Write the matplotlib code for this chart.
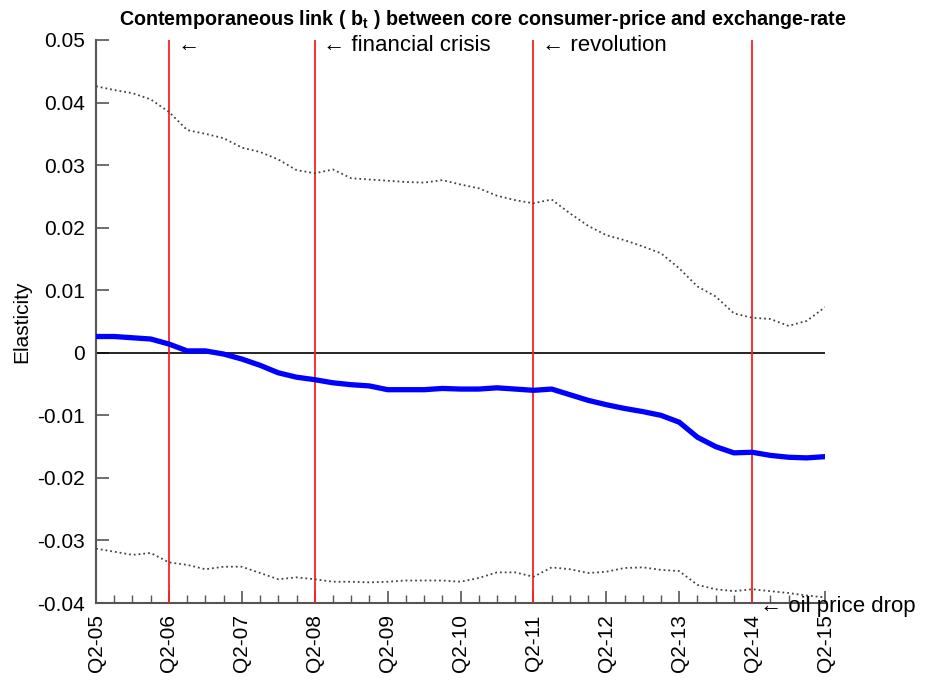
import matplotlib
matplotlib.use("Agg")
import matplotlib.pyplot as plt
from matplotlib.ticker import MultipleLocator

plt.rcParams['font.family'] = ['Liberation Sans', 'DejaVu Sans']
plt.rcParams['mathtext.fontset'] = 'custom'
plt.rcParams['mathtext.rm'] = 'Liberation Sans'
plt.rcParams['mathtext.bf'] = 'Liberation Sans:bold'

# quarterly index, Q2-05 ... Q2-15
quarters = list(range(41))
tick_pos = [0, 4, 8, 12, 16, 20, 24, 28, 32, 36, 40]
tick_labels = ['Q2-05', 'Q2-06', 'Q2-07', 'Q2-08', 'Q2-09', 'Q2-10',
               'Q2-11', 'Q2-12', 'Q2-13', 'Q2-14', 'Q2-15']

b_t = [0.0026, 0.0026, 0.0024, 0.0022, 0.0014, 0.0003, 0.0003, -0.0002, -0.0010, -0.0020,
       -0.0032, -0.0039, -0.0043, -0.0048, -0.0051, -0.0053, -0.0059, -0.0059, -0.0059, -0.0057,
       -0.0058, -0.0058, -0.0056, -0.0058, -0.0060, -0.0058, -0.0067, -0.0076, -0.0083, -0.0089,
       -0.0094, -0.0100, -0.0111, -0.0135, -0.0150, -0.0160, -0.0159, -0.0164, -0.0167, -0.0168,
       -0.0166]
upper = [0.0426, 0.0420, 0.0415, 0.0405, 0.0385, 0.0356, 0.0350, 0.0343, 0.0328, 0.0321,
         0.0309, 0.0292, 0.0287, 0.0293, 0.0279, 0.0277, 0.0275, 0.0273, 0.0272, 0.0276,
         0.0269, 0.0263, 0.0251, 0.0244, 0.0239, 0.0245, 0.0223, 0.0203, 0.0188, 0.0180,
         0.0170, 0.0159, 0.0135, 0.0106, 0.0090, 0.0063, 0.0056, 0.0054, 0.0043, 0.0051,
         0.0073]
lower = [-0.0313, -0.0318, -0.0323, -0.0320, -0.0335, -0.0339, -0.0346, -0.0342, -0.0342, -0.0352,
         -0.0362, -0.0359, -0.0362, -0.0366, -0.0366, -0.0367, -0.0366, -0.0364, -0.0364, -0.0364,
         -0.0366, -0.0360, -0.0351, -0.0351, -0.0358, -0.0343, -0.0346, -0.0352, -0.0350, -0.0344,
         -0.0343, -0.0347, -0.0349, -0.0371, -0.0378, -0.0381, -0.0378, -0.0381, -0.0384, -0.0388,
         -0.0391]

events = [4, 12, 24, 36]
event_labels = ['\u2190', '\u2190 financial crisis', '\u2190 revolution', '\u2190 oil price drop']

yticks = [0.05, 0.04, 0.03, 0.02, 0.01, 0.0, -0.01, -0.02, -0.03, -0.04]
ytick_labels = ['0.05', '0.04', '0.03', '0.02', '0.01', '0', '-0.01', '-0.02', '-0.03', '-0.04']

fig = plt.figure(figsize=(9.27, 6.8), dpi=100)
ax = fig.add_axes([0.1036, 0.1132, 0.7864, 0.828])

ax.axhline(0, color='black', lw=1.2, zorder=2)
for e in events:
    ax.axvline(e, color='#ff2020', lw=1.3, zorder=3)
ax.plot(quarters, upper, color='#444444', ls=':', lw=1.3, zorder=4)
ax.plot(quarters, lower, color='#444444', ls=':', lw=1.3, zorder=4)
ax.plot(quarters, b_t, color='#0000ff', lw=3.8, zorder=5)

ax.set_xlim(0, 40)
ax.set_ylim(-0.04, 0.05)
ax.set_xticks(tick_pos)
ax.set_xticklabels(tick_labels, rotation=90, fontsize=15)
ax.xaxis.set_minor_locator(MultipleLocator(1))
ax.set_yticks(yticks)
ax.set_yticklabels(ytick_labels, fontsize=15)
ax.tick_params(axis='both', which='major', direction='in', length=9, width=1.2, color='#555555')
ax.tick_params(axis='x', which='minor', direction='in', length=6, width=1.0, color='#555555')
ax.tick_params(axis='y', pad=8)
ax.tick_params(axis='x', pad=8)
for s in ['top', 'right']:
    ax.spines[s].set_visible(False)
for s in ['left', 'bottom']:
    ax.spines[s].set_color('#555555')
    ax.spines[s].set_linewidth(1.5)

ax.set_ylabel('Elasticity', fontsize=15, labelpad=4)

top_y = [0.0491, 0.0491, 0.0491, -0.0406]
for e, lab, ty in zip(events, event_labels, top_y):
    ax.text(e + 0.45, ty, lab, fontsize=16, va='center', ha='left', clip_on=False, zorder=6)

fig.text(0.521, 0.972, r'Contemporaneous link ( $\mathbf{b_t}$ ) between core consumer-price and exchange-rate',
         ha='center', va='center', fontsize=14.2, fontweight='bold')

fig.savefig('out.png', dpi=100)
